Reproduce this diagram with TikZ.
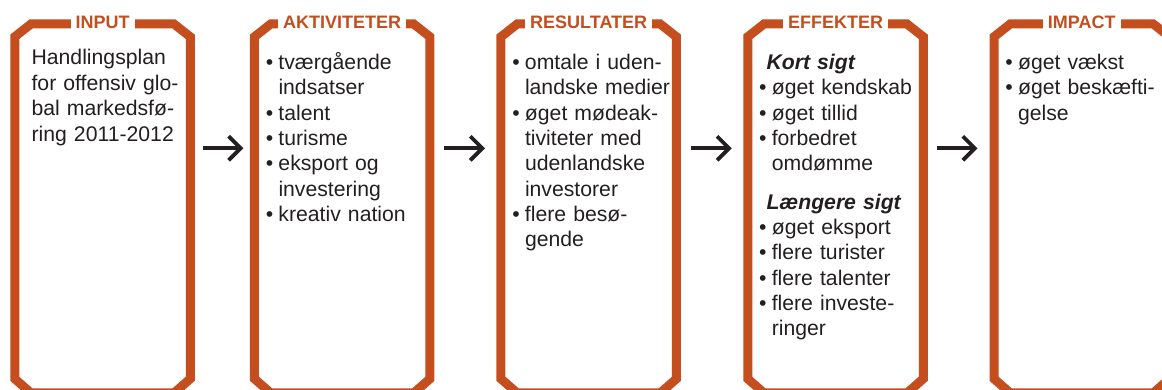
\documentclass[tikz,border=0pt]{standalone}
\usepackage{fontspec}
\setmainfont{Liberation Sans}
\usetikzlibrary{arrows.meta}

\definecolor{frameorange}{RGB}{196,78,30}
\definecolor{inkgray}{RGB}{35,31,32}

% bullet item and continuation line
\newcommand\itm{\makebox[12.6pt][l]{\textbullet}}
\newcommand\cnt{\hspace*{12.6pt}}

% chamfered frame around a panel node
\newcommand\panelframe[1]{%
  \draw[panel line] ([yshift=14]#1.south west) -- ([yshift=-13]#1.north west)
    -- ([xshift=16.5]#1.north west) -- ([xshift=-16.5]#1.north east)
    -- ([yshift=-13]#1.north east) -- ([yshift=14]#1.south east)
    -- ([xshift=-16]#1.south east) -- ([xshift=16]#1.south west) -- cycle;}

\tikzset{
  panel/.style={minimum width=175.5, minimum height=369, inner sep=0, outer sep=0},
  panel line/.style={draw=frameorange, line width=9, line join=miter},
  head label/.style={fill=white, text=frameorange, inner xsep=5, inner ysep=1,
    font=\fontsize{18}{20}\selectfont\bfseries},
  body text/.style={anchor=base west, inner sep=0, text width=175, align=left,
    text=inkgray, font=\fontsize{21.2}{25.35}\selectfont},
  flow arrow/.style={draw=inkgray, line width=3.8, -{Straight Barb[length=12pt,width=24pt]}}
}

\begin{document}
\begin{tikzpicture}[x=1pt,y=-1pt]
\useasboundingbox (0,0) rectangle (1162,390);

\node[panel] (input) at (102.5,208.3) {};
\node[panel] (aktiviteter) at (342.2,208.3) {};
\node[panel] (resultater) at (588.7,208.3) {};
\node[panel] (effekter) at (835.5,208.3) {};
\node[panel] (impact) at (1081.75,208.3) {};

\panelframe{input}
\panelframe{aktiviteter}
\panelframe{resultater}
\panelframe{effekter}
\panelframe{impact}

\node[head label] (input-head) at ([yshift=1.5]input.north) {INPUT};
\node[head label] (aktiviteter-head) at ([yshift=1.5]aktiviteter.north) {AKTIVITETER};
\node[head label] (resultater-head) at ([yshift=1.5]resultater.north) {RESULTATER};
\node[head label] (effekter-head) at ([yshift=1.5]effekter.north) {EFFEKTER};
\node[head label] (impact-head) at ([yshift=1.5]impact.north) {IMPACT};

\node[body text] (input-text) at ([shift={(16.65,41.2)}]input.north west)
  {Handlingsplan\\for offensiv glo-\\bal markedsfø-\\ring 2011-2012};
\node[body text] (aktiviteter-text) at ([shift={(11.25,45.7)}]aktiviteter.north west)
  {\itm tværgående\\\cnt indsatser\\\itm talent\\\itm turisme\\\itm eksport og\\\cnt investering\\\itm kreativ nation};
\node[body text] (resultater-text) at ([shift={(11.25,45.7)}]resultater.north west)
  {\itm omtale i uden-\\\cnt landske medier\\\itm øget mødeak-\\\cnt tiviteter med\\\cnt udenlandske\\\cnt investorer\\\itm flere besø-\\\cnt gende};
\node[body text] (effekter-text) at ([shift={(11.25,45.7)}]effekter.north west)
  {\hspace*{7.3pt}\textbf{\textit{Kort sigt}}\\\itm øget kendskab\\\itm øget tillid\\\itm forbedret\\\cnt omdømme\\[13pt]%
   \hspace*{7.3pt}\textbf{\textit{Længere sigt}}\\\itm øget eksport\\\itm flere turister\\\itm flere talenter\\\itm flere investe-\\\cnt ringer};
\node[body text] (impact-text) at ([shift={(11.25,45.7)}]impact.north west)
  {\itm øget vækst\\\itm øget beskæfti-\\\cnt gelse};

\draw[flow arrow] ([shift={(12.75,-60)}]input.east) -- ([shift={(-11.15,-60)}]aktiviteter.west);
\draw[flow arrow] ([shift={(14.3,-60)}]aktiviteter.east) -- ([shift={(-16,-60)}]resultater.west);
\draw[flow arrow] ([shift={(14.5,-60)}]resultater.east) -- ([shift={(-16,-60)}]effekter.west);
\draw[flow arrow] ([shift={(13.75,-60)}]effekter.east) -- ([shift={(-16.5,-60)}]impact.west);
\end{tikzpicture}
\end{document}
